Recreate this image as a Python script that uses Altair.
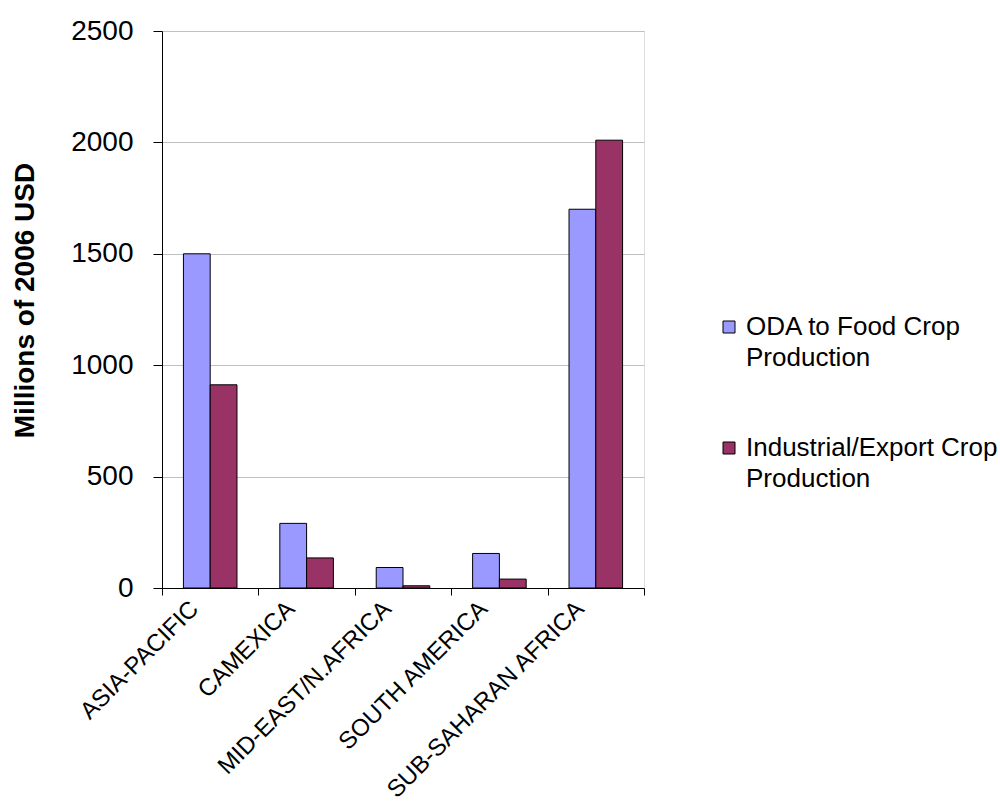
import altair as alt
import pandas as pd

# Regions on the category axis and the two aid series
regions = ["ASIA-PACIFIC", "CAMEXICA", "MID-EAST/N.AFRICA", "SOUTH AMERICA", "SUB-SAHARAN AFRICA"]
series = ["ODA to Food Crop Production", "Industrial/Export Crop Production"]
oda_food = [1500, 290, 92, 155, 1700]
industrial_export = [912, 135, 10, 40, 2010]
y_ticks = [0, 500, 1000, 1500, 2000, 2500]
colors = ["#9999FF", "#993366"]

rows = []
for region, a, b in zip(regions, oda_food, industrial_export):
    rows.append({"region": region, "series": series[0], "value": a})
    rows.append({"region": region, "series": series[1], "value": b})
df = pd.DataFrame(rows)

FONT = "Liberation Sans"

bars = alt.Chart(df).mark_bar(
    stroke="black", strokeWidth=1, strokeOpacity=1, opacity=1
).encode(
    x=alt.X(
        "region:N", sort=regions, title=None,
        scale=alt.Scale(paddingInner=0, paddingOuter=0),
        axis=alt.Axis(
            labelAngle=-45, labelAlign="right", labelBaseline="middle",
            labelFont=FONT, labelFontSize=24, labelColor="black",
            labelPadding=10, labelOffset=-16, labelLimit=400,
            tickBand="extent", ticks=True, tickSize=7, tickColor="black",
            domainColor="black", grid=False,
        ),
    ),
    # the pair of bars sits in the middle of each category slot
    xOffset=alt.XOffset(
        "series:N", sort=series,
        scale=alt.Scale(paddingInner=0, paddingOuter=0.8),
    ),
    y=alt.Y(
        "value:Q",
        scale=alt.Scale(domain=[0, 2500], nice=False),
        axis=alt.Axis(
            values=y_ticks, format="d", title="Millions of 2006 USD",
            titleFont=FONT, titleFontSize=28, titleFontWeight="bold", titleColor="black",
            titlePadding=31, titleY=269,
            labelFont=FONT, labelFontSize=28, labelColor="black", labelPadding=20,
            tickSize=9, tickColor="black", domainColor="black",
            grid=True, gridColor="#C0C0C0", gridWidth=1,
        ),
    ),
    color=alt.Color(
        "series:N", sort=series,
        scale=alt.Scale(domain=series, range=colors),
        legend=alt.Legend(
            title=None, orient="none", legendX=554, legendY=283, padding=0,
            symbolType="square", symbolSize=144, symbolStrokeColor="black",
            symbolStrokeWidth=1, symbolOpacity=1,
            labelFont=FONT, labelFontSize=26, labelColor="black", labelOffset=4,
            labelLimit=400, rowPadding=64,
            labelExpr="[slice(datum.label, 0, lastindexof(datum.label, ' ')), "
                      "slice(datum.label, lastindexof(datum.label, ' ') + 1)]",
        ),
    ),
)

chart = bars.properties(
    width=482, height=557,
    autosize=alt.AutoSizeParams(type="none"),
    padding={"left": 162, "top": 31, "right": 356, "bottom": 219},
).configure_view(
    fill="#FFFFCC", stroke="#808080", strokeWidth=1,
).configure(
    background="white",
    style={"guide-label": {"lineHeight": 31}},
)

chart.save("out.html", embed_options={"renderer": "svg", "actions": False})
